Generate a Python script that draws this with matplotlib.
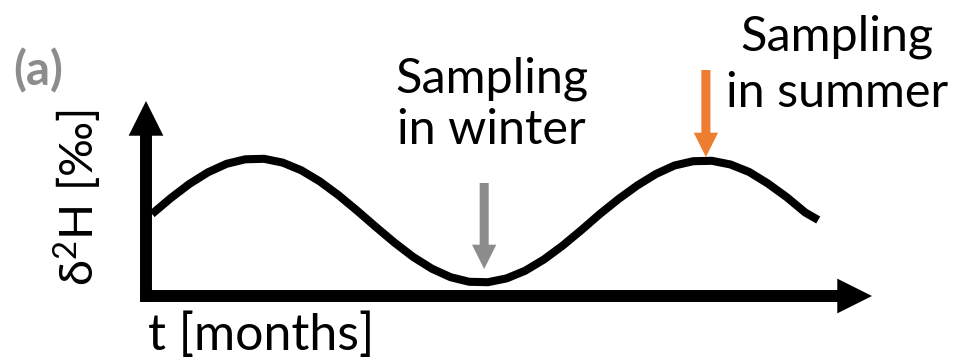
import numpy as np
import matplotlib
matplotlib.use("Agg")
import matplotlib.pyplot as plt

plt.rcParams['font.family'] = ['Lato', 'DejaVu Sans']
plt.rcParams['mathtext.default'] = 'regular'

# seasonal d2H signal (t in months, arbitrary d2H units)
months = [0, 0.5, 1, 1.5, 2, 2.5, 3, 3.5, 4, 4.5, 5, 5.5, 6, 6.5, 7, 7.5, 8, 8.5,
          9, 9.5, 10, 10.5, 11, 11.5, 12, 12.5, 13, 13.5, 14, 14.5, 15, 15.5,
          16, 16.5, 17, 17.5, 17.85]
d2h = [8.2, 9.78, 11.2, 12.37, 13.22, 13.67, 13.72, 13.34, 12.57, 11.45, 10.07,
       8.52, 6.9, 5.33, 3.9, 2.73, 1.88, 1.42, 1.38, 1.76, 2.53, 3.65, 5.03,
       6.58, 8.2, 9.7, 11.05, 12.2, 13.05, 13.48, 13.52, 13.15, 12.4, 11.25,
       9.9, 8.35, 7.6]

# sampling times: (month, arrow top, arrow tip)
winter_sample = (8.9, 11.3, 2.7)
summer_sample = (14.84, 22.6, 13.9)
gray = '#8c8c8c'
orange = '#ed7d31'

fig = plt.figure(figsize=(9.6, 3.6), dpi=100)
ax = fig.add_axes([146 / 960, 64 / 360, 726 / 960, 195 / 360])
ax.set_xlim(-0.16, 19.29)
ax.set_ylim(0, 19.5)
ax.set_axis_off()

# axis arrows
axis_arrow = dict(width=8.6, headwidth=25, headlength=25, shrink=0,
                  facecolor='black', edgecolor='none')
ax.annotate('', xy=(1, 0), xytext=(-6 / 726, 0), xycoords='axes fraction',
            arrowprops=axis_arrow, annotation_clip=False)
ax.annotate('', xy=(0, 1), xytext=(0, -6 / 195), xycoords='axes fraction',
            arrowprops=axis_arrow, annotation_clip=False)

ax.plot(months, d2h, color='black', lw=5.8, solid_capstyle='butt', clip_on=False)

for (tm, top, tip), col in [(winter_sample, gray), (summer_sample, orange)]:
    ax.annotate('', xy=(tm, tip), xytext=(tm, top),
                arrowprops=dict(width=6.5, headwidth=17.5, headlength=17.5,
                                shrink=0, facecolor=col, edgecolor='none'),
                annotation_clip=False)

ax.text(9.1, 19.2, 'Sampling\nin winter', ha='center', va='center',
        fontsize=35, linespacing=1.2)
ax.text(18.35, 23.1, 'Sampling\nin summer', ha='center', va='center',
        fontsize=35, linespacing=1.32)

ax.text(-1.98, 9.8, 'δ$^2$H [‰]', rotation=90, ha='center', va='center', fontsize=34)
fig.text(148 / 960, 1 - 350 / 360, 't [months]', ha='left', va='baseline', fontsize=36)
fig.text(13 / 960, 1 - 71 / 360, '(a)', ha='left', va='center', fontsize=34,
         fontweight='bold', color=gray)

fig.savefig('out.png', dpi=100)
